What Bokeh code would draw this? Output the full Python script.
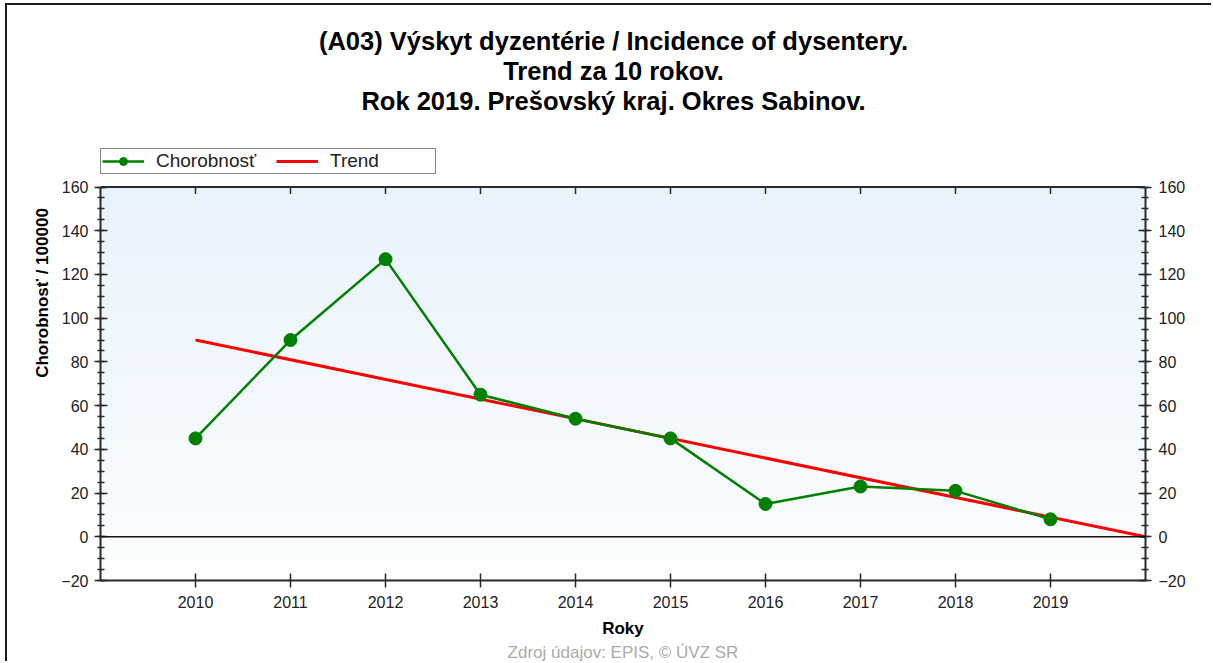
import numpy as np
from bokeh.plotting import figure
from bokeh.models import (LinearAxis, FixedTicker, Range1d, Span, Legend,
                          LegendItem, Title, Label)
from bokeh.embed import file_html
from bokeh.resources import INLINE

# ---- data ----
years = [2010, 2011, 2012, 2013, 2014, 2015, 2016, 2017, 2018, 2019]
incidence = [45, 90, 127, 65, 54, 45, 15, 23, 21, 8]
trend_years = [2010, 2020]
trend_values = [90, 0]
y_ticks = [-20, 0, 20, 40, 60, 80, 100, 120, 140, 160]
y_minor_ticks = list(range(-20, 161, 5))
x_ticks = years
title_lines = ["(A03) Výskyt dyzentérie / Incidence of dysentery.",
               "Trend za 10 rokov.",
               "Rok 2019. Prešovský kraj. Okres Sabinov."]
source_text = "Zdroj údajov: EPIS, © ÚVZ SR"

# axis extent
x_start, x_end = 2009, 2020
y_start, y_top = -20, 160

# layout (pixels)
FRAME_H = 575
PX_PER_UNIT = 393.5 / (y_top - y_start)
y_view_end = y_start + FRAME_H / PX_PER_UNIT   # frame extends above the axes for titles/legend

FONT = "Liberation Sans"

p = figure(width=1206, height=658, output_backend="svg", toolbar_location=None,
           x_range=Range1d(x_start, x_end), y_range=Range1d(y_start, y_view_end),
           x_axis_location=None, y_axis_location=None,
           min_border_left=93, min_border_right=68,
           min_border_top=0, min_border_bottom=83)
p.outline_line_color = None
p.grid.visible = False
p.background_fill_color = "white"
p.border_fill_color = "white"
p.styles = {"border-top": "2px solid #1a1a1a", "border-left": "2px solid #1a1a1a",
            "margin-top": "3px", "margin-left": "5px"}

# gradient background of the plot area
n = 400
img = np.empty((n, 1), dtype=np.uint32)
view = img.view(dtype=np.uint8).reshape((n, 1, 4))
t = np.linspace(0, 1, n)
bottom_rgb = np.array([252, 254, 255])
top_rgb = np.array([233, 243, 253])
for i in range(3):
    view[:, 0, i] = (bottom_rgb[i] + (top_rgb[i] - bottom_rgb[i]) * t).astype(np.uint8)
view[:, 0, 3] = 255
p.image_rgba(image=[img], x=x_start, y=y_start, dw=x_end - x_start, dh=y_top - y_start)

AX_COLOR = "#2a2a2a"
LBL_COLOR = "#222222"

p.add_layout(Span(location=0, dimension="width", line_color="#111111", line_width=1.5))
# top border of the plot area with inward ticks
p.add_layout(Span(location=y_top, dimension="width", line_color=AX_COLOR, line_width=2))
p.ray(x=x_ticks, y=y_top, length=7, length_units="screen", angle=-np.pi / 2,
      line_color=AX_COLOR, line_width=1.5)

trend = p.line(trend_years, trend_values, line_color="#ff0000", line_width=3)
green_line = p.line(years, incidence, line_color="#008000", line_width=2.5)
green_pts = p.scatter(years, incidence, size=13, fill_color="#008000", line_color="#008000")


def style_axis(ax):
    ax.axis_line_color = AX_COLOR
    ax.axis_line_width = 2
    ax.major_tick_line_color = AX_COLOR
    ax.major_tick_line_width = 1.5
    ax.minor_tick_line_color = AX_COLOR
    ax.minor_tick_line_width = 1.5
    ax.major_label_text_font = FONT
    ax.major_label_text_font_size = "16px"
    ax.major_label_text_color = LBL_COLOR
    ax.axis_label_text_font = FONT
    ax.axis_label_text_font_size = "17px"
    ax.axis_label_text_font_style = "bold"
    ax.axis_label_text_color = "#000000"


left = LinearAxis(ticker=FixedTicker(ticks=y_ticks, minor_ticks=y_minor_ticks),
                  axis_label="Chorobnosť / 100000", bounds=(y_start, y_top))
style_axis(left)
left.major_tick_in = 7
left.major_tick_out = 6
left.minor_tick_in = 4
left.minor_tick_out = 3
left.major_label_standoff = 6
left.axis_label_standoff = 6
p.add_layout(left, "left")

right = LinearAxis(ticker=FixedTicker(ticks=y_ticks, minor_ticks=y_minor_ticks),
                   bounds=(y_start, y_top))
style_axis(right)
right.major_tick_in = 7
right.major_tick_out = 6
right.minor_tick_in = 4
right.minor_tick_out = 3
right.major_label_standoff = 7
p.add_layout(right, "right")

bottom = LinearAxis(ticker=FixedTicker(ticks=x_ticks, minor_ticks=[]), axis_label="Roky")
style_axis(bottom)
bottom.major_tick_in = 7
bottom.major_tick_out = 7
bottom.minor_tick_in = 0
bottom.minor_tick_out = 0
bottom.major_label_standoff = 8
bottom.axis_label_standoff = 8
p.add_layout(bottom, "below")

p.add_layout(Title(text=source_text, align="center", standoff=1,
                   text_font=FONT, text_font_size="17px", text_font_style="normal",
                   text_color="#ababab"), "below")

legend = Legend(items=[LegendItem(label="Chorobnosť", renderers=[green_line, green_pts]),
                       LegendItem(label="Trend", renderers=[trend])],
                location=(0, 406), orientation="horizontal",
                border_line_color="#111111", border_line_width=1.5,
                background_fill_color="white", background_fill_alpha=1.0,
                label_text_font=FONT, label_text_font_size="19px",
                label_text_color="#222222",
                glyph_width=42, glyph_height=20, label_standoff=12,
                spacing=16, padding=1, margin=0, label_width=104,
                label_height=20)
p.add_layout(legend, "center")

for i, line in enumerate(title_lines):
    p.add_layout(Label(x=513, y=540 - 30 * i, x_units="screen", y_units="screen",
                       text=line, text_align="center", text_baseline="middle",
                       text_font=FONT, text_font_style="bold", text_font_size="25.5px",
                       text_color="#000000"))

open("out.html", "w").write(file_html(p, INLINE))
